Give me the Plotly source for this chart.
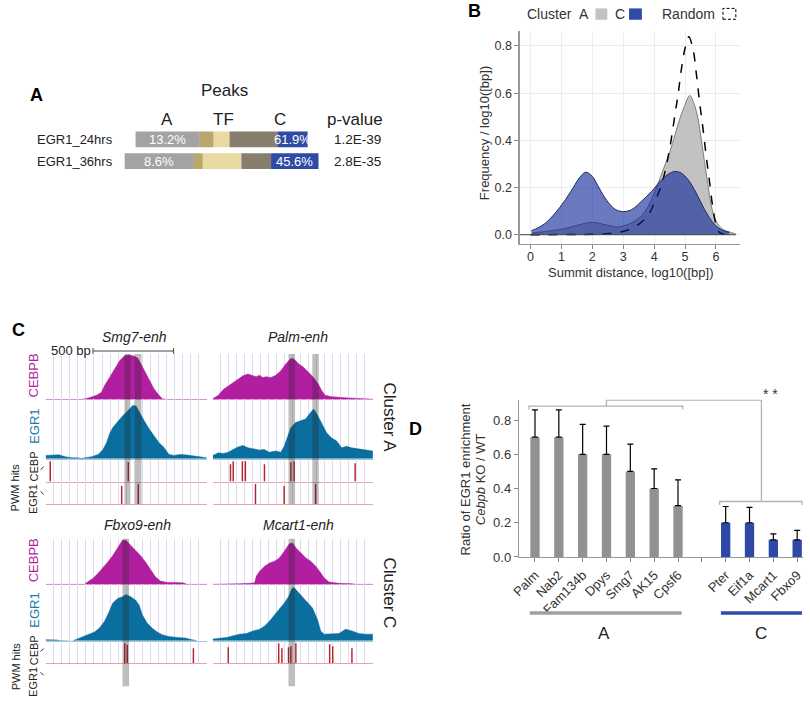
import plotly.graph_objects as go

W, H = 810, 711
FONT = "Liberation Sans, Arial, Helvetica, sans-serif"

# ---------------- Panel A data ----------------
a_rows = ["EGR1_24hrs", "EGR1_36hrs"]
a_grey = [65, 70]          # cluster A peaks
a_tan_dark = [14, 9]
a_tan_light = [16, 39]     # TF
a_brown = [49, 30]
a_blue = [30, 48]          # cluster C peaks
a_pct_A = ["13.2%", "8.6%"]
a_pct_C = ["61.9%", "45.6%"]
a_pvalues = ["1.2E-39", "2.8E-35"]
a_headers = ["A", "TF", "C", "p-value"]

# ---------------- Panel B data ----------------
b_A_x = [0.05, 0.5, 1.05, 1.5, 2.0, 2.45, 2.86, 3.39, 3.71, 4.03, 4.19, 4.35, 4.51, 4.67, 4.83, 4.99,
         5.15, 5.31, 5.42, 5.52, 5.63, 5.74, 5.84, 6.0, 6.21, 6.48, 6.64]
b_A_y = [0.008, 0.014, 0.024, 0.04, 0.052, 0.042, 0.033, 0.059, 0.10, 0.184, 0.24, 0.296, 0.352, 0.422,
         0.492, 0.548, 0.59, 0.548, 0.492, 0.408, 0.31, 0.212, 0.128, 0.059, 0.024, 0.01, 0.003]
b_C_x = [0.03, 0.25, 0.51, 0.94, 1.31, 1.58, 1.79, 2.0, 2.22, 2.48, 2.75, 3.02, 3.28, 3.6, 3.92, 4.24,
         4.51, 4.69, 4.88, 5.1, 5.36, 5.63, 5.95, 6.21, 6.43]
b_C_y = [0.017, 0.03, 0.052, 0.114, 0.184, 0.24, 0.265, 0.247, 0.198, 0.143, 0.107, 0.098, 0.107, 0.143,
         0.184, 0.233, 0.261, 0.268, 0.261, 0.233, 0.177, 0.107, 0.044, 0.019, 0.01]
b_R_x = [0.0, 2.0, 2.54, 3.07, 3.5, 3.82, 4.03, 4.24, 4.40, 4.54, 4.67, 4.78, 4.88, 4.99, 5.12, 5.26,
         5.36, 5.47, 5.58, 5.68, 5.79, 5.9, 6.0, 6.11, 6.27]
b_R_y = [0.0, 0.002, 0.005, 0.017, 0.044, 0.086, 0.143, 0.212, 0.296, 0.394, 0.506, 0.60, 0.70, 0.785,
         0.839, 0.785, 0.688, 0.562, 0.45, 0.338, 0.226, 0.114, 0.044, 0.01, 0.002]
b_xticks = [0, 1, 2, 3, 4, 5, 6]
b_yticks = [0.0, 0.2, 0.4, 0.6, 0.8]

# ---------------- Panel C data (bp, normalised signal) ----------------
smg7_cebpb_x = [0, 224, 265, 316, 347, 367, 398, 429, 459, 490, 520, 551, 571, 592, 612, 643, 673, 704, 724, 745, 1000]
smg7_cebpb_y = [0, 0, 0.03, 0.09, 0.16, 0.31, 0.49, 0.67, 0.85, 0.96, 0.98, 0.95, 0.91, 0.78, 0.64, 0.45, 0.23, 0.09, 0.015, 0, 0]
smg7_egr1_x = [0, 82, 122, 163, 204, None, 235, 286, 327, 357, 378, 398, 418, 449, 480, 500, 520, 541, 561, 582,
               612, 643, 673, 704, 735, 765, 796, 837, 878, 918, 959, 1000]
smg7_egr1_y = [0.057, 0.068, 0.034, 0.017, 0.017, None, 0.011, 0.034, 0.074, 0.16, 0.27, 0.43, 0.53, 0.64, 0.73, 0.78,
               0.84, 0.90, 0.89, 0.78, 0.64, 0.5, 0.39, 0.27, 0.19, 0.074, 0.057, 0.074, 0.0625, 0.045, 0.034, 0.017]
smg7_cebp_hits = [29, 513]
smg7_cebp_h = [1.0, 0.95]
smg7_egr1_hits = [472, 575]
smg7_egr1_h = [0.9, 1.0]
smg7_bands = [(489, 526), (554, 595)]

palm_cebpb_x = [0, 35, 66, 97, 127, 158, 189, 220, 251, 271, 292, 312, 333, 363, 394, 425, 456, 487, 507, 538,
                569, 600, 630, 661, 682, 702, 743, 825, 908, 990, 1000]
palm_cebpb_y = [0.015, 0.09, 0.22, 0.30, 0.37, 0.46, 0.52, 0.56, 0.52, 0.5, 0.53, 0.48, 0.5, 0.48, 0.53, 0.63,
                0.78, 0.9, 0.89, 0.78, 0.7, 0.59, 0.48, 0.33, 0.185, 0.09, 0.06, 0.037, 0.022, 0.007, 0.005]
palm_egr1_x = [0, 35, 66, 97, 127, 158, 189, 220, 251, 292, 322, 353, 394, 425, 446, 466, 487, 517, 548, 579,
               610, 630, 651, 682, 713, 743, 774, 805, 836, 867, 908, 949, 1000]
palm_egr1_y = [0.056, 0.10, 0.09, 0.11, 0.157, 0.2, 0.225, 0.185, 0.17, 0.146, 0.157, 0.11, 0.13, 0.11, 0.21,
               0.38, 0.52, 0.61, 0.635, 0.67, 0.775, 0.84, 0.75, 0.58, 0.43, 0.35, 0.3, 0.185, 0.21, 0.185,
               0.17, 0.146, 0.13]
palm_cebp_hits = [111, 128, 185, 204, 323, 488, 508, 889]
palm_cebp_h = [0.85, 1.0, 1.0, 1.0, 0.85, 0.95, 1.0, 0.9]
palm_egr1_hits = [267, 446, 642]
palm_egr1_h = [1.0, 0.9, 1.0]
palm_bands = [(473, 514), (622, 662)]

fbxo9_cebpb_x = [0, 242, 262, 293, 324, 355, 385, 416, 447, 477, 498, 529, 559, 590, 621, 652, 682, 713, 754,
                 816, 857, 877, 1000]
fbxo9_cebpb_y = [0, 0, 0.057, 0.13, 0.236, 0.357, 0.486, 0.63, 0.81, 0.97, 0.97, 0.857, 0.757, 0.63, 0.486,
                 0.307, 0.164, 0.071, 0.043, 0.043, 0.029, 0, 0]
fbxo9_egr1_x = [0, 78, None, 170, 221, 262, 303, 334, 365, 395, 416, 447, 477, 498, 529, 559, 580, 600, 631,
                662, 693, 723, 764, 816, 867, 908, 939]
fbxo9_egr1_y = [0.018, 0.012, None, 0, 0.059, 0.094, 0.153, 0.224, 0.34, 0.52, 0.665, 0.75, 0.78, 0.82, 0.78,
                0.72, 0.635, 0.46, 0.31, 0.22, 0.153, 0.106, 0.076, 0.059, 0.047, 0.018, 0]
fbxo9_cebp_hits = [491, 507, 917]
fbxo9_cebp_h = [1.0, 0.92, 0.75]
fbxo9_egr1_hits = []
fbxo9_egr1_h = []
fbxo9_bands = [(477, 518)]

mcart1_cebpb_x = [0, 128, 169, 231, 262, 272, 293, 324, 355, 386, 416, 447, 478, 499, 520, 551, 581, 612, 643,
                  674, 695, 726, 788, 870, 891, 1000]
mcart1_cebpb_y = [0, 0, 0.015, 0.022, 0.036, 0.18, 0.29, 0.40, 0.47, 0.51, 0.58, 0.73, 0.89, 0.91, 0.80, 0.69,
                  0.58, 0.51, 0.40, 0.255, 0.146, 0.05, 0.022, 0.015, 0, 0]
mcart1_egr1_x = [0, 45, 87, 128, 169, 210, 252, 293, 324, 355, 386, 416, 447, 474, 495, 509, 540, 581, 623, 654,
                 674, 695, 746, 788, 829, 870, 911, 953, 1000]
mcart1_egr1_y = [0.029, 0.04, 0.058, 0.087, 0.116, 0.128, 0.174, 0.203, 0.262, 0.349, 0.453, 0.552, 0.669, 0.785,
                 0.93, 0.94, 0.843, 0.727, 0.58, 0.378, 0.174, 0.116, 0.128, 0.128, 0.203, 0.174, 0.128, 0.116, 0.116]
mcart1_cebp_hits = [97, 412, 432, 473, 488, 519, 730, 749, 869]
mcart1_cebp_h = [0.8, 1.0, 0.75, 0.8, 0.85, 1.0, 0.95, 0.85, 0.75]
mcart1_egr1_hits = []
mcart1_egr1_h = []
mcart1_bands = [(473, 514)]

# ---------------- Panel D data ----------------
d_genes_A = ["Palm", "Nab2", "Fam134b", "Dpys", "Smg7", "AK15", "Cpsf6"]
d_vals_A = [0.7, 0.7, 0.6, 0.6, 0.5, 0.4, 0.3]
d_err_A = [0.16, 0.16, 0.175, 0.165, 0.16, 0.115, 0.15]
d_genes_C = ["Pter", "Eif1a", "Mcart1", "Fbxo9"]
d_vals_C = [0.2, 0.2, 0.1, 0.1]
d_err_C = [0.095, 0.09, 0.035, 0.055]
d_yticks = [0.0, 0.2, 0.4, 0.6, 0.8]


def xd(a, b):
    return [a / W, b / W]


def yd(top, bottom):
    return [1 - bottom / H, 1 - top / H]


def px(x):
    return x / W


def py(y):
    return 1 - y / H


fig = go.Figure()
annotations = []
shapes = []
axes = {}


def ann(text, x, y, size=13, color="#222", angle=0, xanchor="center", yanchor="middle",
        xref="paper", yref="paper"):
    if xref == "paper":
        x = px(x)
    if yref == "paper":
        y = py(y)
    annotations.append(dict(text=text, x=x, y=y, xref=xref, yref=yref, showarrow=False,
                            font=dict(size=size, color=color, family=FONT), textangle=angle,
                            xanchor=xanchor, yanchor=yanchor))


# ================= Panel A =================
segments = [a_grey, a_tan_dark, a_tan_light, a_brown, a_blue]
seg_colors = ["#a3a3a3", "#bca76b", "#e9d9a3", "#877e6d", "#2f4ba6"]
nrow = len(a_rows)
pos = [-sum(s[i] for s in segments) / 2 for i in range(nrow)]
bases = []
for s, col in zip(segments, seg_colors):
    bases.append(pos[:])
    fig.add_trace(go.Bar(orientation="h", y=list(range(nrow)), x=s, base=pos[:], width=0.73,
                         marker=dict(color=col, line=dict(width=0)), xaxis="x", yaxis="y",
                         hoverinfo="skip", showlegend=False))
    pos = [pos[i] + s[i] for i in range(nrow)]
for i in range(nrow):
    ann(a_pct_A[i], bases[0][i] + a_grey[i] / 2, i, size=13, color="white", xref="x", yref="y")
    ann(a_pct_C[i], bases[4][i] + a_blue[i] / 2, i, size=13, color="white", xref="x", yref="y")
    ann(a_rows[i], 26, 141 + 22 * i, size=13, xanchor="left")
    ann(a_pvalues[i], 352, 141 + 22 * i, size=13.5)
axes["xaxis"] = dict(domain=xd(100, 330), range=[-115, 115], visible=False, anchor="y")
axes["yaxis"] = dict(domain=yd(130, 174), range=[1.5, -0.5], visible=False, anchor="x")
ann("Peaks", 218, 92, size=17)
for h, x in zip(a_headers, [160, 217, 274, 350]):
    ann(h, x, 121, size=17)
ann("<b>A</b>", 28, 96, size=18, color="black")

# ================= Panel B =================
fig.add_trace(go.Scatter(x=b_A_x, y=b_A_y, mode="lines", line=dict(color="#666666", width=0.8, shape="spline"),
                         fill="tozeroy", fillcolor="#c2c2c2", xaxis="x2", yaxis="y2", hoverinfo="skip",
                         showlegend=False))
fig.add_trace(go.Scatter(x=b_R_x, y=b_R_y, mode="lines",
                         line=dict(color="black", width=1.5, dash="dash", shape="spline"),
                         xaxis="x2", yaxis="y2", hoverinfo="skip", showlegend=False))
fig.add_trace(go.Scatter(x=b_C_x, y=b_C_y, mode="lines", line=dict(color="#1d2a5c", width=1, shape="spline"),
                         fill="tozeroy", fillcolor="rgba(8,34,150,0.6)", xaxis="x2", yaxis="y2",
                         hoverinfo="skip", showlegend=False))
axes["xaxis2"] = dict(domain=xd(516.7, 739.3), range=[-0.34, 6.78], anchor="y2", tickvals=b_xticks,
                      ticks="outside", ticklen=4, tickcolor="#888", showline=True, linecolor="#999",
                      linewidth=1.5, showgrid=True, gridcolor="#ececec", zeroline=False,
                      ticklabelstandoff=-3,
                      tickfont=dict(size=12.5, color="#333", family=FONT))
axes["yaxis2"] = dict(domain=yd(31.7, 246.7), range=[-0.039, 0.862], anchor="x2", tickvals=b_yticks,
                      tickformat=".1f", ticks="outside", ticklen=4, tickcolor="#888", showline=True,
                      linecolor="#999", linewidth=1.5, showgrid=True, gridcolor="#ececec", zeroline=False,
                      tickfont=dict(size=12.5, color="#333", family=FONT))
shapes.append(dict(type="line", xref="x2", yref="y2", x0=-0.34, x1=b_A_x[-1], y0=0, y1=0,
                   line=dict(color="#444", width=1)))
ann("<b>B</b>", 471, 11, size=18, color="black")
ann("Cluster", 521.7, 14, size=14, color="#333", xanchor="left")
ann("A", 581.5, 14, size=14, color="#333")
ann("C", 618, 14, size=14, color="#333")
ann("Random", 658, 14, size=14, color="#333", xanchor="left")
shapes.append(dict(type="rect", xref="paper", yref="paper", x0=px(593), x1=px(605), y0=py(20), y1=py(8.5),
                   fillcolor="#c2c2c2", line=dict(width=0)))
shapes.append(dict(type="rect", xref="paper", yref="paper", x0=px(627), x1=px(640), y0=py(20), y1=py(8.5),
                   fillcolor="#2f4ba6", line=dict(width=0)))
shapes.append(dict(type="rect", xref="paper", yref="paper", x0=px(722), x1=px(735), y0=py(19.5), y1=py(8.5),
                   fillcolor="rgba(0,0,0,0)", line=dict(color="black", width=1, dash="3px,2px")))
ann("Frequency / log10([bp])", 481, 135, size=13, color="#333", angle=-90)
ann("Summit distance, log10([bp])", 628, 276, size=13, color="#333")

# ================= Panel D =================
posA = list(range(len(d_genes_A)))
posC = [len(d_genes_A) + 1 + i for i in range(len(d_genes_C))]
fig.add_trace(go.Bar(x=posA, y=d_vals_A, width=0.39, marker=dict(color="#919191", line=dict(width=0)),
                     error_y=dict(type="data", symmetric=False, array=d_err_A, arrayminus=[0] * len(d_err_A),
                                  color="black", thickness=1.2, width=3),
                     xaxis="x3", yaxis="y3", hoverinfo="skip", showlegend=False))
fig.add_trace(go.Bar(x=posC, y=d_vals_C, width=0.39, marker=dict(color="#2d48a6", line=dict(width=0)),
                     error_y=dict(type="data", symmetric=False, array=d_err_C, arrayminus=[0] * len(d_err_C),
                                  color="black", thickness=1.2, width=3),
                     xaxis="x3", yaxis="y3", hoverinfo="skip", showlegend=False))
axes["xaxis3"] = dict(domain=xd(516, 803.3), range=[-0.66, 11.26], anchor="y3",
                      tickvals=posA + [len(d_genes_A)] + posC, ticktext=d_genes_A + [""] + d_genes_C,
                      tickangle=-45, ticks="outside", ticklen=4, tickcolor="#888", showline=True,
                      linecolor="#999", linewidth=1.5, showgrid=False, zeroline=False,
                      tickfont=dict(size=13, color="#333", family=FONT))
axes["yaxis3"] = dict(domain=yd(404.1, 563.3), range=[0, 0.92], anchor="x3", tickvals=d_yticks,
                      tickformat=".1f", ticks="outside", ticklen=4, tickcolor="#888", showline=True,
                      linecolor="#999", linewidth=1.5, showgrid=False, zeroline=False,
                      tickfont=dict(size=13, color="#333", family=FONT))
br = dict(color="#b3b3b3", width=1.3)
shapes.append(dict(type="path", xref="x3", yref="y3", path="M -0.25,0.862 L -0.25,0.882 L 6.2,0.882 L 6.2,0.862",
                   line=br))
shapes.append(dict(type="path", xref="x3", yref="y3", path="M 3.0,0.882 L 3.0,0.917 L 9.5,0.917 L 9.5,0.324",
                   line=br))
shapes.append(dict(type="path", xref="x3", yref="y3", path="M 7.75,0.304 L 7.75,0.324 L 11.2,0.324 L 11.2,0.304",
                   line=br))
ann("* *", 770, 398, size=14, color="#333")
shapes.append(dict(type="line", xref="x3", yref="paper", x0=-0.22, x1=6.15, y0=py(620), y1=py(620),
                   line=dict(color="#a0a0a0", width=3.7)))
shapes.append(dict(type="line", xref="x3", yref="paper", x0=7.8, x1=11.2, y0=py(620), y1=py(620),
                   line=dict(color="#2f4ba6", width=3.7)))
ann("A", 602, 641, size=17, color="#222")
ann("C", 760, 641, size=17, color="#222")
ann("Ratio of EGR1 enrichment", 462, 485, size=13, color="#333", angle=-90)
ann("<i>Cebpb</i> KO / WT", 477, 485, size=13, color="#333", angle=-90)
ann("<b>D</b>", 411, 434, size=18, color="black")

# ================= Panel C =================
enhancers = [
    dict(name="Smg7-enh", col=0, grp=0, cx=smg7_cebpb_x, cy=smg7_cebpb_y, ex=smg7_egr1_x, ey=smg7_egr1_y,
         ch=smg7_cebp_hits, chh=smg7_cebp_h, eh=smg7_egr1_hits, ehh=smg7_egr1_h, bands=smg7_bands),
    dict(name="Palm-enh", col=1, grp=0, cx=palm_cebpb_x, cy=palm_cebpb_y, ex=palm_egr1_x, ey=palm_egr1_y,
         ch=palm_cebp_hits, chh=palm_cebp_h, eh=palm_egr1_hits, ehh=palm_egr1_h, bands=palm_bands),
    dict(name="Fbxo9-enh", col=0, grp=1, cx=fbxo9_cebpb_x, cy=fbxo9_cebpb_y, ex=fbxo9_egr1_x, ey=fbxo9_egr1_y,
         ch=fbxo9_cebp_hits, chh=fbxo9_cebp_h, eh=fbxo9_egr1_hits, ehh=fbxo9_egr1_h, bands=fbxo9_bands),
    dict(name="Mcart1-enh", col=1, grp=1, cx=mcart1_cebpb_x, cy=mcart1_cebpb_y, ex=mcart1_egr1_x,
         ey=mcart1_egr1_y, ch=mcart1_cebp_hits, chh=mcart1_cebp_h, eh=mcart1_egr1_hits, ehh=mcart1_egr1_h,
         bands=mcart1_bands),
]
cols = [(37, 200), (206, 368)]
groups = [[(358, 404), (404, 464), (464, 487), (487, 510)],
          [(545, 591), (591, 648), (648, 671), (671, 694)]]
title_pos = [[(127, 341), (292, 341)], [(130, 531), (293, 531)]]
MAG = "#b11e9f"
TEAL = "#0a6e9e"
HITC = "#b3232b"
GRID = "#dddbef"

ax = 4
for e in enhancers:
    c0, c1 = cols[e["col"]]
    rows = groups[e["grp"]]
    ids = list(range(ax, ax + 4))
    ax += 4
    line_colors = ["#dc92d3", "#9cc6dc", "#eaa3ab", "#eaa3ab"]
    yranges = [[0, 1.0], [0, 1.0], [0, 1.12], [0, 1.12]]
    for k, n in enumerate(ids):
        top, bot = rows[k]
        axes[f"xaxis{n}"] = dict(domain=xd(c0, c1), range=[0, 1000], anchor=f"y{n}", showticklabels=False,
                                 ticks="", showgrid=True, gridcolor=GRID, gridwidth=1, dtick=50, tick0=0,
                                 zeroline=False, showline=True, linecolor=line_colors[k], linewidth=1)
        axes[f"yaxis{n}"] = dict(domain=yd(top, bot), range=yranges[k], anchor=f"x{n}", visible=False)
    fig.add_trace(go.Scatter(x=e["cx"], y=e["cy"], mode="lines", line=dict(color=MAG, width=0.5),
                             fill="tozeroy", fillcolor=MAG, xaxis=f"x{ids[0]}", yaxis=f"y{ids[0]}",
                             hoverinfo="skip", showlegend=False))
    fig.add_trace(go.Scatter(x=e["ex"], y=e["ey"], mode="lines", line=dict(color=TEAL, width=0.5),
                             fill="tozeroy", fillcolor=TEAL, xaxis=f"x{ids[1]}", yaxis=f"y{ids[1]}",
                             hoverinfo="skip", showlegend=False, connectgaps=False))
    if e["ch"]:
        fig.add_trace(go.Bar(x=e["ch"], y=e["chh"], base=0, width=9, marker=dict(color=HITC, line=dict(width=0)),
                             xaxis=f"x{ids[2]}", yaxis=f"y{ids[2]}", hoverinfo="skip", showlegend=False))
    if e["eh"]:
        fig.add_trace(go.Bar(x=e["eh"], y=e["ehh"], base=0, width=9, marker=dict(color=HITC, line=dict(width=0)),
                             xaxis=f"x{ids[3]}", yaxis=f"y{ids[3]}", hoverinfo="skip", showlegend=False))
    for b0, b1 in e["bands"]:
        shapes.append(dict(type="rect", xref=f"x{ids[0]}", yref="paper", x0=b0, x1=b1,
                           y0=py(rows[3][1]), y1=py(rows[0][0]), fillcolor="rgba(40,40,40,0.3)",
                           line=dict(width=0), layer="above"))
    tx, ty = title_pos[e["grp"]][e["col"]]
    ann(f"<i>{e['name']}</i>", tx, ty, size=14, color="#222")

# scale bar (500 bp) on Smg7 axis
shapes.append(dict(type="line", xref="x4", yref="paper", x0=294, x1=794, y0=py(355), y1=py(355),
                   line=dict(color="#444", width=1)))
for xb in (294, 794):
    shapes.append(dict(type="line", xref="x4", yref="paper", x0=xb, x1=xb, y0=py(352), y1=py(358),
                       line=dict(color="#444", width=1)))
ann("500 bp", 40, 354, size=13, color="#222", xanchor="left")

# left labels
for g, (cb, eg, hc, he, pw) in enumerate([(380, 431, 472, 505, 493), (567, 617, 658, 690, 674)]):
    ann("CEBPB", 25, cb, size=13, color=MAG, angle=-90)
    ann("EGR1", 25, eg, size=13, color="#1a7aaa", angle=-90)
    ann("CEBP", 25, hc, size=11, color="#222", angle=-90)
    ann("EGR1", 25, he, size=11, color="#222", angle=-90)
    ann("PWM hits", 7, pw, size=11, color="#222", angle=-90)
for (x0, y0, x1, y1) in [(32, 475, 35, 472), (32, 497, 35, 500), (32, 659, 35, 656), (32, 680, 35, 683)]:
    shapes.append(dict(type="line", xref="paper", yref="paper", x0=px(x0), y0=py(y0), x1=px(x1), y1=py(y1),
                       line=dict(color="#222", width=1)))
ann("Cluster A", 385, 422, size=17, color="#222", angle=90)
ann("Cluster C", 385, 600, size=17, color="#222", angle=90)
ann("<b>C</b>", 10, 334, size=18, color="black")

fig.update_layout(width=W, height=H, margin=dict(l=0, r=0, t=0, b=0), autosize=False,
                  paper_bgcolor="white", plot_bgcolor="white", barmode="overlay",
                  font=dict(family=FONT, color="#222"), showlegend=False,
                  annotations=annotations, shapes=shapes, **axes)
fig.write_html("out.html", config={"displayModeBar": False, "staticPlot": True},
               post_script="document.body.style.margin='0px';document.body.style.padding='0px';"
                           "document.body.style.overflow='hidden';")
